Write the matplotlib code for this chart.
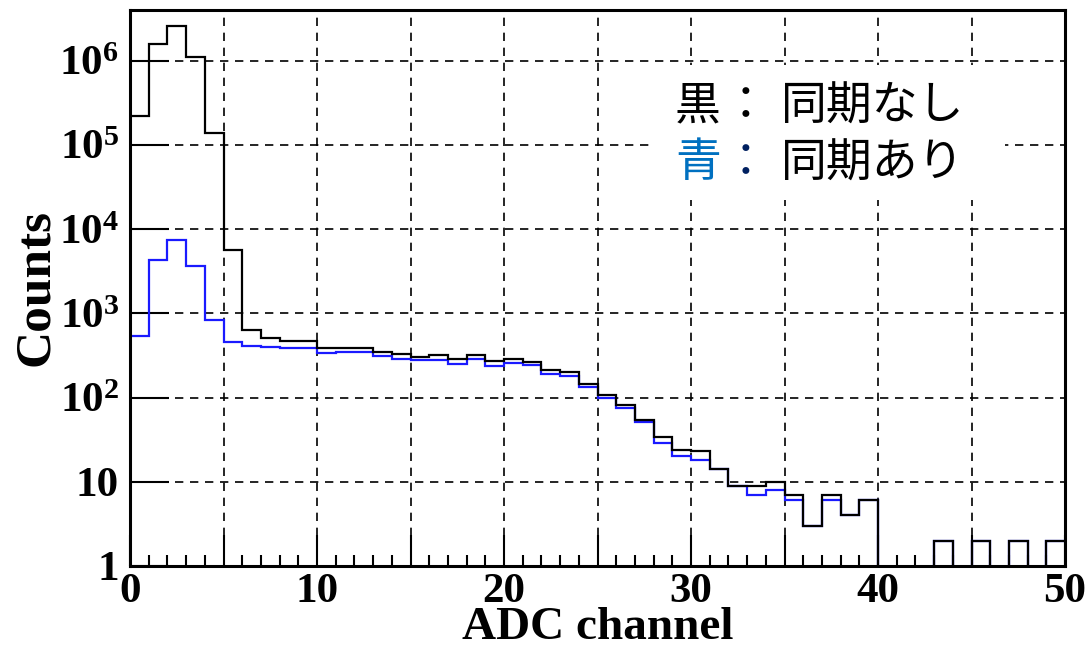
import numpy as np
import matplotlib
matplotlib.use('Agg')
import matplotlib.pyplot as plt
from matplotlib.ticker import MultipleLocator, FixedLocator, FuncFormatter, LogLocator, NullFormatter
from matplotlib.patches import Rectangle

# ADC ヒストグラム (ビン幅 1, 0-50 ch)
bordes = np.arange(0, 51)

# 黒: 同期なし
sin_sync = [220000, 1600000, 2600000, 1100000, 137000, 5650, 630, 507, 471, 470,
            393, 385, 383, 352, 327, 304, 321, 285, 318, 273,
            285, 266, 211, 202, 144, 108, 81, 54, 34, 24,
            23, 14, 9, 9, 10, 7, 3, 7, 4, 6,
            0, 0, 0, 2, 0, 2, 0, 2, 0, 2]

# 青: 同期あり
con_sync = [540, 4300, 7370, 3650, 835, 458, 410, 403, 385, 390,
            334, 343, 343, 312, 285, 280, 278, 249, 285, 238,
            254, 244, 190, 180, 132, 100, 75, 51, 29, 20,
            18, 14, 9, 7, 8, 6, 3, 6, 4, 6,
            0, 0, 0, 2, 0, 2, 0, 2, 0, 2]

etiquetas_y = {1: '1', 10: '10', 100: r'$\mathbf{10^{2}}$', 1000: r'$\mathbf{10^{3}}$',
               10000: r'$\mathbf{10^{4}}$', 100000: r'$\mathbf{10^{5}}$',
               1000000: r'$\mathbf{10^{6}}$'}

plt.rcParams['mathtext.fontset'] = 'custom'
plt.rcParams['mathtext.rm'] = 'Liberation Serif:bold'
plt.rcParams['mathtext.bf'] = 'Liberation Serif:bold'
plt.rcParams['font.family'] = 'Liberation Serif'
plt.rcParams['font.weight'] = 'bold'

fig = plt.figure(figsize=(10.86, 6.48), dpi=100)
ax = fig.add_axes([130/1086, 1 - 566/648, 935/1086, 556/648])

ax.set_yscale('log', nonpositive='clip')
ax.stairs(sin_sync, bordes, color='black', lw=1.6, baseline=None, zorder=3)
ax.stairs(con_sync, bordes, color='#1a1aff', lw=1.6, baseline=None, zorder=2)

ax.set_xlim(0, 50)
ax.set_ylim(1, 4.0e6)

# ejes al estilo ROOT: ticks hacia dentro, solo abajo e izquierda
ax.xaxis.set_major_locator(MultipleLocator(5))
ax.xaxis.set_minor_locator(MultipleLocator(1))
ax.xaxis.set_major_formatter(FuncFormatter(lambda v, p: '%d' % v if v % 10 == 0 else ''))
ax.yaxis.set_major_locator(FixedLocator(list(etiquetas_y.keys())))
ax.yaxis.set_major_formatter(FuncFormatter(lambda v, p: etiquetas_y.get(int(round(v)), '')))
ax.yaxis.set_minor_locator(LogLocator(base=10, subs=np.arange(2, 10)))
ax.yaxis.set_minor_formatter(NullFormatter())

ax.tick_params(axis='both', which='both', direction='in', top=False, right=False,
               width=1.5, labelsize=31)
ax.tick_params(axis='x', which='major', length=22, pad=5)
ax.tick_params(axis='x', which='minor', length=8)
ax.tick_params(axis='y', which='major', length=28, pad=8)
ax.tick_params(axis='y', which='minor', length=13)
for s in ax.spines.values():
    s.set_linewidth(2.2)

ax.grid(True, which='major', color='black', ls=(0, (5, 4)), lw=1.2)

ax.set_xlabel('ADC channel', fontsize=34, fontweight='bold', labelpad=-3)
ax.set_ylabel('Counts', fontsize=37, fontweight='bold', labelpad=0)

# leyenda en texto sobre fondo blanco
ax.add_patch(Rectangle((0.5615, 0.658), 0.374, 0.243, transform=ax.transAxes,
                       facecolor='white', edgecolor='none', zorder=4))
fuente = ['Noto Sans CJK JP', 'DejaVu Sans']
fila1, fila2 = 1 - 106/648, 1 - 163/648
tam = 33
fig.text(675/1086, fila1, '黒', family=fuente, fontsize=tam, fontweight='normal',
         color='black', va='center', zorder=5)
fig.text(746/1086, fila1, '：', family=fuente, fontsize=tam, fontweight='normal',
         color='black', va='center', ha='center', zorder=5)
fig.text(781/1086, fila1, '同期なし', family=fuente, fontsize=tam, fontweight='normal',
         color='black', va='center', zorder=5)
fig.text(675/1086, fila2, '青', family=fuente, fontsize=tam, fontweight='normal',
         color='#0070c0', va='center', zorder=5)
fig.text(746/1086, fila2, '：', family=fuente, fontsize=tam, fontweight='normal',
         color='#002060', va='center', ha='center', zorder=5)
fig.text(781/1086, fila2, '同期あり', family=fuente, fontsize=tam, fontweight='normal',
         color='black', va='center', zorder=5)

plt.savefig('out.png', dpi=100)
